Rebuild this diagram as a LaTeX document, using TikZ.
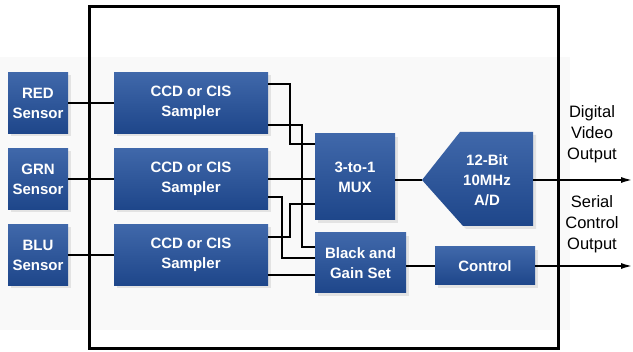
\documentclass[tikz,border=0pt]{standalone}
\usepackage{fontspec}
\setmainfont{Liberation Sans}
\usetikzlibrary{arrows.meta,shadows}
\definecolor{boxblue}{RGB}{30,70,138}
\definecolor{boxtop}{RGB}{64,104,170}

\begin{document}
\begin{tikzpicture}[x=1pt,y=-1pt,
  blk/.style={rectangle,top color=boxtop,bottom color=boxblue,text=white,
    font=\fontsize{15}{20}\selectfont\bfseries,align=center,inner sep=0pt,
    drop shadow={opacity=0.18,shadow xshift=3pt,shadow yshift=-3pt}},
  wire/.style={line width=2pt},
  outlbl/.style={font=\fontsize{16.5}{21}\selectfont,align=center}]
\useasboundingbox (0,0) rectangle (633,352);
\fill[black!2.5] (0,57) rectangle (570,330);
\draw[line width=3pt] (89,7) rectangle (558,349);
\foreach \i/\col/\y in {1/RED/103,2/GRN/179,3/BLU/255}
{
\node[blk,minimum width=60,minimum height=61] (sen\i) at (38,\y) {\col\\Sensor};
\node[blk,minimum width=154,minimum height=61] (smp\i) at (191,\y) {CCD or CIS\\Sampler};
\draw[wire] (sen\i) -- (smp\i);
}
\node[blk,minimum width=80,minimum height=86] (mux) at (355,177) {3-to-1\\MUX};
\node[blk,minimum width=91,minimum height=60] (bg) at (360.5,263) {Black and\\Gain Set};
\node[blk,minimum width=100,minimum height=38] (ctrl) at (485,266) {Control};
\coordinate (adtip) at (422,180);
\shade[top color=boxtop,bottom color=boxblue,drop shadow={opacity=0.18,shadow xshift=3pt,shadow yshift=-3pt}]
  (adtip) -- (460,132) -- (533,132) -- (533,226) -- (463,226) -- cycle;
\node[text=white,font=\fontsize{15}{20}\selectfont\bfseries,align=center,inner sep=0pt,minimum width=92,minimum height=94] (ad) at (487,180) {12-Bit\\10MHz\\A/D};
\coordinate (dvo) at (633,180);
\coordinate (sco) at (633,266);
\draw[wire] ([yshift=19pt]smp1.east) -| ([xshift=-25pt,yshift=33pt]mux.west) -- ([yshift=33pt]mux.west);
\draw[wire] ([yshift=-22pt]smp1.east) -| ([xshift=-13pt,yshift=16pt]bg.west) -- ([yshift=16pt]bg.west);
\draw[wire] (smp2.east) -- (smp2.east -| mux.west);
\draw[wire] ([yshift=-18pt]smp2.east) -| ([xshift=-33pt,yshift=5pt]bg.west) -- ([yshift=5pt]bg.west);
\draw[wire] ([yshift=18pt]smp3.east) -| ([xshift=-25pt,yshift=-27pt]mux.west) -- ([yshift=-27pt]mux.west);
\draw[wire] ([yshift=-20pt]smp3.east) -- ([yshift=-20pt]smp3.east -| bg.west);
\draw[wire] (mux.east |- adtip) -- (adtip);
\draw[wire] (ctrl.west -| bg.east) -- (ctrl.west);
\draw[wire,-{Latex[length=12pt,width=6pt]}] (ad.east) -- (dvo);
\draw[wire,-{Latex[length=12pt,width=6pt]}] (ctrl.east) -- (sco);
\node[outlbl] (dvl) at (592,134) {Digital\\Video\\Output};
\node[outlbl] (scl) at (592,224) {Serial\\Control\\Output};
\end{tikzpicture}
\end{document}
